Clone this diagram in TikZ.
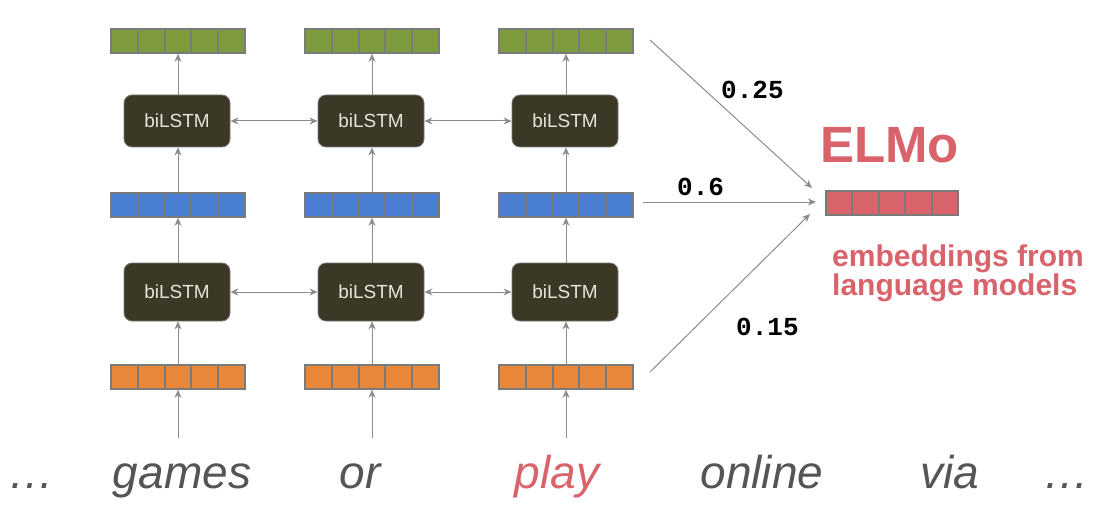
\documentclass[tikz,border=0pt]{standalone}
\usepackage{fontspec}
\setmainfont{Liberation Sans}
\newfontfamily\monofnt{Liberation Mono}
\usetikzlibrary{arrows.meta,calc}
\definecolor{vgreen}{HTML}{7D9B3D}
\definecolor{vblue}{HTML}{4A7FD3}
\definecolor{vorange}{HTML}{E8873A}
\definecolor{vred}{HTML}{D9636B}
\definecolor{boxfill}{HTML}{3B3826}
\definecolor{boxtext}{HTML}{E8E5D8}
\definecolor{arrgray}{HTML}{8C8C8C}
\definecolor{cellgray}{HTML}{7A7A7A}
\definecolor{wordgray}{HTML}{555555}
\begin{document}
\begin{tikzpicture}[x=1pt,y=-1pt,
  vec/.style={draw=cellgray, line width=1.6pt, minimum width=134pt, minimum height=24pt, inner sep=0pt,
    path picture={\foreach \i in {1,...,4}{
      \path ($(path picture bounding box.north west)!\i/5!(path picture bounding box.north east)$) coordinate (cp);
      \draw[cellgray,line width=2pt] (cp) -- (cp |- path picture bounding box.south);}}},
  lstm/.style={draw=cellgray, line width=0.8pt, fill=boxfill, rounded corners=8pt, minimum width=106pt,
    inner sep=0pt, text=boxtext, font=\fontsize{19}{19}\selectfont},
  conn/.style={draw=arrgray, line width=1pt, -{Stealth[length=8pt,width=7pt,inset=2.5pt]}},
  biconn/.style={draw=arrgray, line width=1pt, {Stealth[length=8pt,width=7pt,inset=2.5pt]}-{Stealth[length=8pt,width=7pt,inset=2.5pt]}},
  word/.style={anchor=base, inner sep=0pt, text=wordgray, font=\fontsize{46}{46}\selectfont\itshape},
  weight/.style={anchor=base west, inner sep=0pt, font=\fontsize{26}{26}\selectfont\monofnt\bfseries},
  redtxt/.style={anchor=base west, inner sep=0pt, text=vred, font=\fontsize{30}{30}\selectfont\bfseries}
]
\useasboundingbox (0,0) rectangle (1117,516);

% vectors
\foreach \n/\x in {1/178,2/372,3/566}{
  \node[vec, fill=vgreen]  (g\n) at (\x,41) {};
  \node[vec, fill=vblue]   (b\n) at (\x,205) {};
  \node[vec, fill=vorange] (o\n) at (\x,377) {};
  \node[lstm, minimum height=52pt] (u\n) at (\x-1,121) {biLSTM};
  \node[lstm, minimum height=58pt] (l\n) at (\x-1,292) {biLSTM};
  \coordinate (in\n) at (\x,438);
}
\node[vec, minimum width=132pt, fill=vred] (elmo) at (892,203) {};

% vertical connectors
\foreach \n in {1,2,3}{
  \draw[conn] (in\n) -- (o\n.south);
  \draw[conn] (o\n.north) -- (o\n.north |- l\n.south);
  \draw[conn] (o\n.north |- l\n.north) -- (b\n.south);
  \draw[conn] (b\n.north) -- (b\n.north |- u\n.south);
  \draw[conn] (b\n.north |- u\n.north) -- (g\n.south);
}
% horizontal connectors
\draw[biconn] (u1) -- (u2);
\draw[biconn] (u2) -- (u3);
\draw[biconn] (l1) -- (l2);
\draw[biconn] (l2) -- (l3);

% weighted connectors to ELMo
\coordinate (s1) at (650,40);
\coordinate (s2) at (643,202);
\coordinate (s3) at (650,372);
\coordinate (e1) at (812,188);
\coordinate (e2) at (816,202);
\coordinate (e3) at (810,214);
\draw[conn] (s1) -- (e1);
\draw[conn] (s2) -- (e2);
\draw[conn] (s3) -- (e3);
\node[weight] (w1) at (721,99) {0.25};
\node[weight] (w2) at (677,196) {0.6};
\node[weight] (w3) at (736,335) {0.15};

% ELMo labels
\node[anchor=base west, inner sep=0pt, text=vred, font=\fontsize{51}{51}\selectfont\bfseries] (elmot) at (820,163) {ELMo};
\node[redtxt] (emb1) at (832,266) {embeddings from};
\node[redtxt] (emb2) at (832,295) {language models};

% words
\node[word] (d1) at (32,488) {…};
\node[word] (w-games) at (182,488) {games};
\node[word] (w-or) at (360,488) {or};
\node[word, text=vred] (w-play) at (557,488) {play};
\node[word] (w-online) at (762,488) {online};
\node[word] (w-via) at (950,488) {via};
\node[word] (d2) at (1066,488) {…};
\end{tikzpicture}
\end{document}
